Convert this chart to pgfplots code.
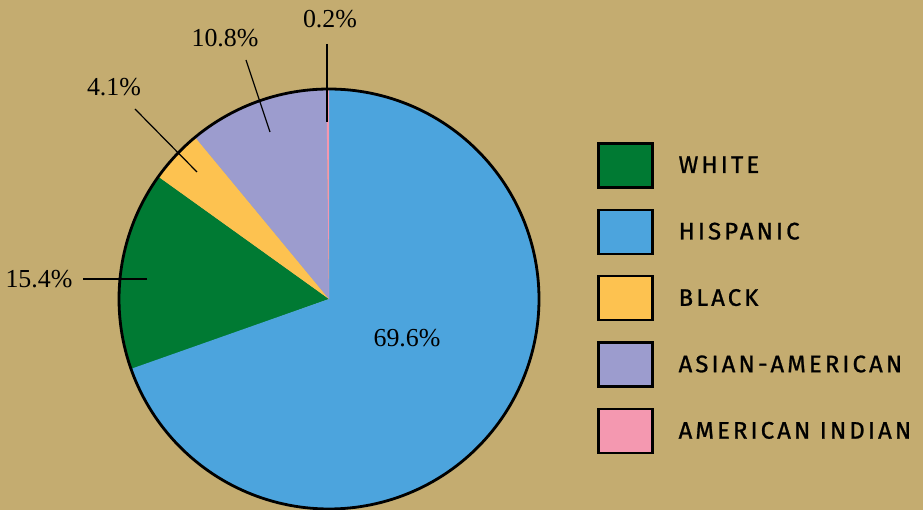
\documentclass[border=0pt]{standalone}
\usepackage{fontspec}
\setmainfont{Liberation Serif}
\newfontfamily\legfont[LetterSpace=13, FakeBold=1]{Fira Sans}
\usepackage{pgfplots}
\pgfplotsset{compat=1.18}
\definecolor{bg}{RGB}{196,172,112}
\definecolor{cWhite}{RGB}{0,122,51}
\definecolor{cHisp}{RGB}{76,164,221}
\definecolor{cBlack}{RGB}{253,194,80}
\definecolor{cAsian}{RGB}{156,156,206}
\definecolor{cAmInd}{RGB}{244,152,176}
% shares (percent)
\def\vWhite{15.4}
\def\vHisp{69.6}
\def\vBlack{4.1}
\def\vAsian{10.8}
\def\vAmInd{0.2}
\pgfmathsetmacro\aHs{90-3.6*\vHisp}
\pgfmathsetmacro\aAe{90+3.6*\vAmInd}
\pgfmathsetmacro\aSe{\aAe+3.6*\vAsian}
\pgfmathsetmacro\aBe{\aSe+3.6*\vBlack}
\pgfmathsetmacro\aWe{\aBe+3.6*\vWhite}
\begin{document}
\begin{tikzpicture}
\begin{axis}[
  width=923bp, height=510bp, scale only axis,
  xmin=0, xmax=923, ymin=0, ymax=510, y dir=reverse,
  hide axis, clip=false,
  legend style={at={(axis cs:597,142)}, anchor=north west, draw=none, fill=none,
    font=\legfont\fontsize{24}{24}\selectfont, row sep=20bp, column sep=25bp,
    inner sep=0pt, nodes={inner xsep=0bp, inner ysep=0pt}},
  legend cell align=left,
  legend image code/.code={\draw[#1, draw=black, line width=2.4bp] (0bp,-22bp) rectangle (54bp,22bp);},
]
\fill[bg] (rel axis cs:0,0) rectangle (rel axis cs:1,1);
\addplot[fill=cWhite, draw=none, domain=\aBe:\aWe, samples=60]
  ({329+210*cos(x)},{299-210*sin(x)}) -- (329,299) -- cycle;
\addlegendentry{WHITE}
\addplot[fill=cHisp, draw=none, domain=\aHs:90, samples=200]
  ({329+210*cos(x)},{299-210*sin(x)}) -- (329,299) -- cycle;
\addlegendentry{HISPANIC}
\addplot[fill=cBlack, draw=none, domain=\aSe:\aBe, samples=20]
  ({329+210*cos(x)},{299-210*sin(x)}) -- (329,299) -- cycle;
\addlegendentry{BLACK}
\addplot[fill=cAsian, draw=none, domain=\aAe:\aSe, samples=40]
  ({329+210*cos(x)},{299-210*sin(x)}) -- (329,299) -- cycle;
\addlegendentry{ASIAN-AMERICAN}
\addplot[fill=cAmInd, draw=none, domain=90:\aAe, samples=3]
  ({329+210*cos(x)},{299-210*sin(x)}) -- (329,299) -- cycle;
\addlegendentry{AMERICAN INDIAN}
\addplot[draw=black, line width=2.8bp, domain=0:360, samples=240, forget plot]
  ({329+210*cos(x)},{299-210*sin(x)});
% leader lines
\draw[black, line width=1.2bp] (83,279) -- (147,279);
\draw[black, line width=1.2bp] (135,109) -- (197,172);
\draw[black, line width=1.2bp] (246,60) -- (270,132);
\draw[black, line width=1.2bp] (327,44) -- (327,122);
\begin{scope}[every node/.style={font=\fontsize{26}{26}\selectfont, inner sep=0pt}]
\node at (39,279) {15.4\%};
\node at (407,338) {69.6\%};
\node at (114,87) {4.1\%};
\node at (225,38) {10.8\%};
\node at (330,19) {0.2\%};
\end{scope}
\end{axis}
\pgfresetboundingbox
\useasboundingbox (current axis.south west) rectangle (current axis.north east);
\end{tikzpicture}
\end{document}
